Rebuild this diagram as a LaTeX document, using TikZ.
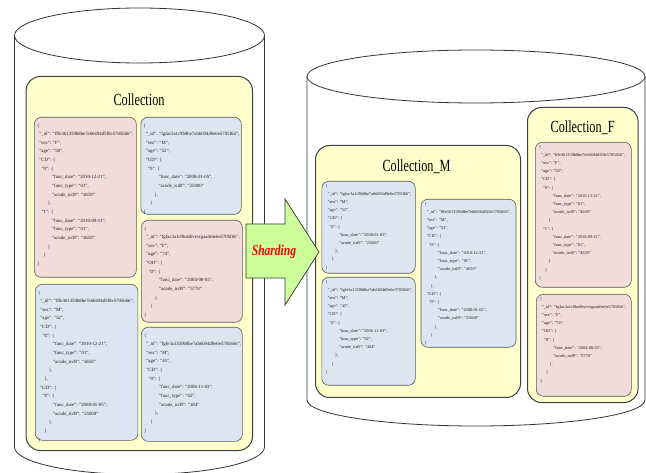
\documentclass[tikz,border=0pt]{standalone}
\usepackage{fontspec}
\setmainfont{Liberation Serif}
\usepackage{graphicx}
\usetikzlibrary{positioning}

\definecolor{collyellow}{RGB}{255,255,204}
\definecolor{recpink}{RGB}{242,220,219}
\definecolor{recblue}{RGB}{220,230,242}
\definecolor{arrowgreen}{RGB}{204,255,153}

% indentation of the record lines
\newcommand{\jA}{\hspace*{.45em}}
\newcommand{\jB}{\hspace*{.9em}}
\newcommand{\jC}{\hspace*{3.1em}}
\newcommand{\jCc}{\hspace*{2.2em}}
\newcommand{\jBc}{\hspace*{1.35em}}

% the five records
\newcommand{\recFa}{\{\\
\jA"\_id": "fffe361359b8be7e66694d5f0e5705666",\\
\jA"sex": "F",\\
\jA"age": "58",\\
\jA"CD": \{\\
\jB"0": \{\\
\jC"func\_date": "2010-12-21",\\
\jC"func\_type": "01",\\
\jC"acode\_icd9": "4659"\\
\jCc\},\\
\jB"1": \{\\
\jC"func\_date": "2010-09-11",\\
\jC"func\_type": "01",\\
\jC"acode\_icd9": "4659"\\
\jCc\}\\
\jBc\}\\
\}}
\newcommand{\recMa}{\{\\
\jA"\_id": "fgfac3a1c9b8be7ab6694d9e6e5705f66",\\
\jA"sex": "M",\\
\jA"age": "52",\\
\jA"GD": \{\\
\jB"0": \{\\
\jC"func\_date": "2008-01-05",\\
\jC"acode\_icd9": "25000"\\
\jCc\},\\
\jBc\}\\
\}}
\newcommand{\recFb}{\{\\
\jA"\_id": "fgfac3a1c9ba6bvevrgaadr6e6e5705f66",\\
\jA"sex": "F",\\
\jA"age": "74",\\
\jA"OO": \{\\
\jB"0": \{\\
\jC"func\_date": "2004-08-05",\\
\jC"acode\_icd9": "5770"\\
\jCc\},\\
\jBc\}\\
\}}
\newcommand{\recMb}{\{\\
\jA"\_id": "fffe361359b8be7e66694d5f0e5705666",\\
\jA"sex": "M",\\
\jA"age": "52",\\
\jA"CD": \{\\
\jB"0": \{\\
\jC"func\_date": "2010-12-21",\\
\jC"func\_type": "01",\\
\jC"acode\_icd9": "4659"\\
\jCc\},\\
\jBc\},\\
\jA"GD": \{\\
\jB"0": \{\\
\jC"func\_date": "2008-01-05",\\
\jC"acode\_icd9": "25000"\\
\jCc\},\\
\jBc\}\\
\}}
\newcommand{\recMc}{\{\\
\jA"\_id": "fgfe3a1359b8be7ab6694d9e6e5705666",\\
\jA"sex": "M",\\
\jA"age": "45",\\
\jA"CD": \{\\
\jB"0": \{\\
\jC"func\_date": "2006-11-03",\\
\jC"func\_type": "02",\\
\jC"acode\_icd9": "464"\\
\jCc\},\\
\jBc\}\\
\}}

\begin{document}
\begin{tikzpicture}[x=1pt, y=-1pt,
  cyl/.style={draw=black!80, line width=0.8pt, fill=white},
  coll/.style={rectangle, rounded corners=14pt, draw=black!75, line width=1pt, fill=collyellow, anchor=north west, inner sep=0pt},
  rec/.style={rectangle, rounded corners=7pt, draw=black!65, line width=0.6pt, fill=#1, anchor=north west, inner sep=0pt},
  rec/.default=recblue,
  colltitle/.style={inner sep=1pt, font=\fontsize{17}{17}\selectfont},
  jsonL/.style={align=left, inner sep=0pt, text=black!90, font=\fontsize{4.8}{8.65}\selectfont},
  jsonR/.style={align=left, inner sep=0pt, text=black!90, font=\fontsize{4.3}{8.2}\selectfont}]
  \fill[white] (0,0) rectangle (646,473);
  \useasboundingbox (0,0) rectangle (646,473);
  % cylinders
  \draw[cyl] (14.5,35.5) -- (14.5,447) arc[start angle=180, end angle=360, x radius=125pt, y radius=27.5pt] -- (264.5,35.5);
  \draw[cyl] (139.5,35.5) ellipse [x radius=125pt, y radius=27.5pt];
  \draw[cyl] (307,76.5) -- (307,400) arc[start angle=180, end angle=360, x radius=169pt, y radius=26pt] -- (645,76.5);
  \draw[cyl] (476,76.5) ellipse [x radius=169pt, y radius=26.5pt];
  % source collection
  \node[coll, minimum width=226.4pt, minimum height=374pt] (coll) at (25.6,76) {};
  \node[colltitle] (colltxt) at (139,100) {\scalebox{.72}[1]{Collection}};
  \node[rec=recpink, minimum width=102pt, minimum height=160pt] (lf1) at (34,117) {};
  \node[rec, minimum width=100.5pt, minimum height=97pt] (lm1) at (140.5,117) {};
  \node[rec=recpink, minimum width=101pt, minimum height=102pt] (lf2) at (141,220) {};
  \node[rec, minimum width=102.6pt, minimum height=156pt] (lm2) at (35,284) {};
  \node[rec, minimum width=101pt, minimum height=114pt] (lm3) at (141,327) {};
  \node[jsonL, below right=6.5pt and 3pt of lf1.north west] (lf1txt) {\recFa};
  \node[jsonL, below right=6.5pt and 3pt of lm1.north west] (lm1txt) {\recMa};
  \node[jsonL, below right=6.5pt and 3pt of lf2.north west] (lf2txt) {\recFb};
  \node[jsonL, below right=6.5pt and 3pt of lm2.north west] (lm2txt) {\recMb};
  \node[jsonL, below right=6.5pt and 3pt of lm3.north west] (lm3txt) {\recMc};
  % collection M
  \node[coll, minimum width=205pt, minimum height=252pt] (collM) at (315,145) {};
  \node[colltitle] (collMtxt) at (416.5,166.7) {\scalebox{.72}[1]{Collection\_M}};
  \node[rec, minimum width=93.5pt, minimum height=92pt] (mm1) at (321.5,181) {};
  \node[rec, minimum width=93.5pt, minimum height=108pt] (mm3) at (321.5,277) {};
  \node[rec, minimum width=95pt, minimum height=148pt] (mm2) at (420.7,199) {};
  \node[jsonR, below right=3pt and 4pt of mm1.north west] (mm1txt) {\recMa};
  \node[jsonR, below right=3pt and 4pt of mm3.north west] (mm3txt) {\recMc};
  \node[jsonR, below right=3pt and 4pt of mm2.north west] (mm2txt) {\recMb};
  % collection F
  \node[coll, minimum width=110.6pt, minimum height=295pt] (collF) at (527,107) {};
  \node[colltitle] (collFtxt) at (582.6,127.3) {\scalebox{.72}[1]{Collection\_F}};
  \node[rec=recpink, minimum width=96pt, minimum height=145pt] (ff1) at (535,142) {};
  \node[rec=recpink, minimum width=95pt, minimum height=102pt] (ff2) at (536,294) {};
  \node[jsonR, below right=3pt and 4pt of ff1.north west] (ff1txt) {\recFa};
  \node[jsonR, below right=3pt and 4pt of ff2.north west] (ff2txt) {\recFb};
  % sharding arrow
  \draw[draw=black!80, line width=0.7pt, fill=arrowgreen, line join=miter]
    (246,224) -- (285,224) -- (285,199) -- (319,252) -- (285,305) -- (285,278) -- (246,278) -- cycle;
  \node[text=red, inner sep=0pt, font=\fontsize{15}{15}\selectfont\bfseries\itshape] (shard) at (274,252) {\scalebox{.77}[1]{Sharding}};
\end{tikzpicture}
\end{document}
